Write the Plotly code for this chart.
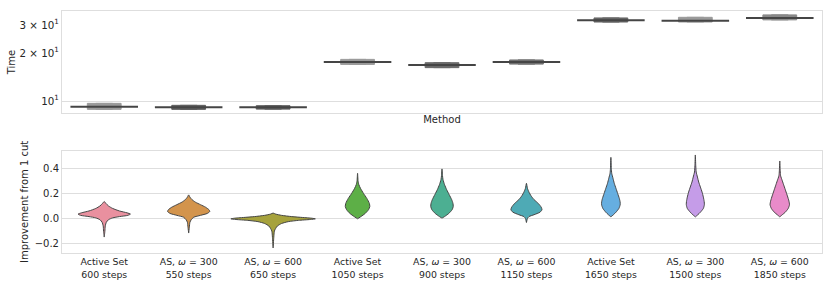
import plotly.graph_objects as go
from plotly.subplots import make_subplots

# ---------------- data ----------------
methods = [
    "Active Set<br>600 steps",
    "AS, <i>ω</i> = 300<br>550 steps",
    "AS, <i>ω</i> = 600<br>650 steps",
    "Active Set<br>1050 steps",
    "AS, <i>ω</i> = 300<br>900 steps",
    "AS, <i>ω</i> = 600<br>1150 steps",
    "Active Set<br>1650 steps",
    "AS, <i>ω</i> = 300<br>1500 steps",
    "AS, <i>ω</i> = 600<br>1850 steps",
]

# run time (seconds, log axis)
time_median = [9.2, 9.13, 9.13, 17.56, 16.8, 17.56, 32.1, 31.9, 33.2]
time_low = [8.87, 8.87, 8.9, 16.98, 16.2, 17.05, 31.3, 31.3, 32.3]
time_high = [9.67, 9.4, 9.35, 18.25, 17.4, 18.1, 33.2, 33.5, 34.7]

time_ticks = [10, 20, 30]
time_tick_text = ["10<sup>1</sup>", "2 × 10<sup>1</sup>", "3 × 10<sup>1</sup>"]

# improvement distributions: density profile (level, half-width) per method
imp_levels = [
    [0.135, 0.12, 0.10, 0.08, 0.06, 0.045, 0.035, 0.025, 0.015, 0.005, -0.01, -0.03, -0.06, -0.10, -0.148],
    [0.188, 0.17, 0.15, 0.13, 0.11, 0.09, 0.07, 0.056, 0.04, 0.025, 0.01, -0.01, -0.03, -0.07, -0.116],
    [0.043, 0.035, 0.025, 0.015, 0.008, 0.002, -0.003, -0.008, -0.015, -0.025, -0.04, -0.06, -0.08, -0.10, -0.15, -0.235],
    [0.36, 0.30, 0.27, 0.24, 0.20, 0.16, 0.12, 0.095, 0.07, 0.04, 0.015, -0.002],
    [0.395, 0.34, 0.31, 0.27, 0.23, 0.19, 0.15, 0.12, 0.095, 0.07, 0.04, 0.015, 0.003],
    [0.28, 0.24, 0.21, 0.18, 0.15, 0.12, 0.09, 0.069, 0.05, 0.03, 0.015, 0.0, -0.032],
    [0.487, 0.40, 0.36, 0.32, 0.28, 0.24, 0.20, 0.16, 0.13, 0.109, 0.08, 0.05, 0.03, 0.013],
    [0.506, 0.42, 0.37, 0.33, 0.29, 0.25, 0.21, 0.17, 0.135, 0.11, 0.08, 0.05, 0.03, 0.013],
    [0.458, 0.38, 0.34, 0.30, 0.26, 0.22, 0.18, 0.14, 0.11, 0.08, 0.05, 0.03, 0.013],
]
imp_density = [
    [0, 0.02, 0.05, 0.10, 0.18, 0.27, 0.31, 0.28, 0.18, 0.10, 0.05, 0.025, 0.012, 0.008, 0],
    [0, 0.015, 0.04, 0.08, 0.14, 0.20, 0.24, 0.25, 0.22, 0.14, 0.06, 0.03, 0.015, 0.008, 0],
    [0, 0.03, 0.10, 0.22, 0.35, 0.46, 0.50, 0.44, 0.30, 0.18, 0.10, 0.05, 0.03, 0.015, 0.008, 0],
    [0, 0.006, 0.015, 0.035, 0.07, 0.11, 0.14, 0.145, 0.13, 0.09, 0.04, 0],
    [0, 0.006, 0.012, 0.03, 0.055, 0.085, 0.115, 0.13, 0.133, 0.12, 0.08, 0.03, 0],
    [0, 0.012, 0.03, 0.055, 0.09, 0.14, 0.175, 0.184, 0.16, 0.09, 0.03, 0.012, 0],
    [0, 0.005, 0.01, 0.025, 0.04, 0.06, 0.08, 0.10, 0.11, 0.11, 0.095, 0.06, 0.03, 0],
    [0, 0.005, 0.01, 0.025, 0.04, 0.06, 0.08, 0.095, 0.105, 0.107, 0.095, 0.06, 0.03, 0],
    [0, 0.005, 0.01, 0.03, 0.05, 0.07, 0.09, 0.108, 0.115, 0.10, 0.065, 0.03, 0],
]
imp_ticks = [-0.2, 0.0, 0.2, 0.4]

# ---------------- styles ----------------
palette = ["#e9909f", "#d3944c", "#a6a23c", "#5daf47", "#4caf92",
           "#4eaab5", "#66aee0", "#c59ce8", "#e88bc9"]
box_fill = ["#9a9a9a", "#5e5e5e", "#5e5e5e", "#9a9a9a", "#6a6a6a",
            "#707070", "#666666", "#9a9a9a", "#888888"]
FONT = "DejaVu Sans"
TXT = "#262626"
GRID = "#dedede"
EDGE = "#454545"

fig = make_subplots(rows=2, cols=1, vertical_spacing=0.0)
fig.update_layout(
    xaxis=dict(domain=[0, 1]), yaxis=dict(domain=[0.5785, 1.0]),
    xaxis2=dict(domain=[0, 1]), yaxis2=dict(domain=[0.0, 0.4227]),
)

xpos = list(range(len(methods)))

# top: box plots
for i in xpos:
    fig.add_trace(go.Box(
        x=[i], q1=[time_low[i]], median=[time_median[i]], q3=[time_high[i]],
        lowerfence=[time_low[i]], upperfence=[time_high[i]],
        width=0.4, fillcolor=box_fill[i], line=dict(color=box_fill[i], width=1),
        showlegend=False, hoverinfo="skip"), row=1, col=1)
    fig.add_trace(go.Box(
        x=[i], q1=[time_median[i]], median=[time_median[i]], q3=[time_median[i]],
        lowerfence=[time_median[i]], upperfence=[time_median[i]],
        width=0.8, fillcolor=EDGE, line=dict(color=EDGE, width=2),
        showlegend=False, hoverinfo="skip"), row=1, col=1)

# bottom: violins
for i in xpos:
    lv = imp_levels[i]
    dw = imp_density[i]
    xs = [i + w for w in dw] + [i - w for w in reversed(dw)]
    ys = list(lv) + list(reversed(lv))
    fig.add_trace(go.Scatter(
        x=xs, y=ys, mode="lines", fill="toself", fillcolor=palette[i],
        line=dict(color=EDGE, width=1, shape="spline", smoothing=0.6),
        showlegend=False, hoverinfo="skip"), row=2, col=1)

axis_common = dict(showline=True, mirror=True, linecolor=GRID, linewidth=1,
                   ticks="", zeroline=False, automargin=False)

fig.update_xaxes(range=[-0.5, 8.5], showgrid=False,
                 tickfont=dict(family=FONT, size=9.4, color=TXT), **axis_common)
fig.update_xaxes(row=1, col=1, showticklabels=False,
                 title=dict(text="Method", standoff=2,
                            font=dict(family=FONT, size=10, color=TXT)))
fig.update_xaxes(row=2, col=1, tickmode="array", tickvals=xpos, ticktext=methods)

fig.update_yaxes(row=1, col=1, type="log", range=[0.925, 1.5647],
                 tickmode="array", tickvals=time_ticks, ticktext=time_tick_text,
                 tickfont=dict(family=FONT, size=10.3, color=TXT),
                 showgrid=False,
                 minor=dict(tickmode="array", tickvals=[10], showgrid=True,
                            gridcolor=GRID, gridwidth=1, ticklen=0),
                 title=dict(text="Time", standoff=2,
                            font=dict(family=FONT, size=10, color=TXT)),
                 **axis_common)
fig.update_yaxes(row=2, col=1, range=[-0.275, 0.54],
                 tickmode="array", tickvals=imp_ticks,
                 ticktext=["−0.2", "0.0", "0.2", "0.4"],
                 tickfont=dict(family=FONT, size=10, color=TXT),
                 showgrid=True, gridcolor=GRID, gridwidth=1,
                 title=dict(text="Improvement from 1 cut", standoff=4,
                            font=dict(family=FONT, size=10, color=TXT)),
                 **axis_common)

fig.update_layout(
    width=830, height=291,
    margin=dict(l=62, r=8, t=11, b=38, autoexpand=False),
    plot_bgcolor="white", paper_bgcolor="white",
    font=dict(family=FONT, size=9.4, color=TXT),
    boxmode="overlay",
)

fig.write_html("out.html",
               config={"displayModeBar": False, "staticPlot": True},
               post_script="document.body.style.margin='0px';"
                           "document.body.style.overflow='hidden';")
